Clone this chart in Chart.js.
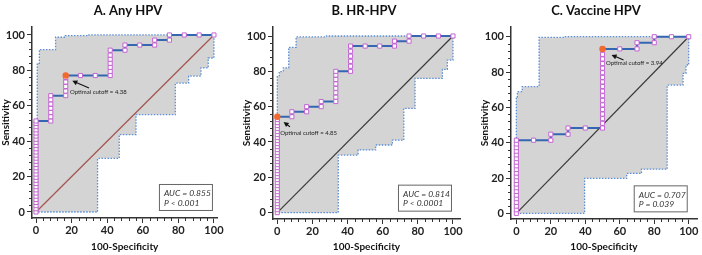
<!DOCTYPE html>
<html>
<head>
<meta charset="utf-8">
<script src="https://cdn.jsdelivr.net/npm/chart.js@4.4.1/dist/chart.umd.min.js"></script>
<style>
  html, body { margin: 0; padding: 0; background: #fff; }
  #wrap { position: relative; width: 702px; height: 255px; }
  .panel { position: absolute; top: 0; width: 234px; height: 255px; }
</style>
</head>
<body>
<div id="wrap">
  <div class="panel" style="left:0px"><canvas id="cA" width="234" height="255"></canvas></div>
  <div class="panel" style="left:234px"><canvas id="cB" width="234" height="255"></canvas></div>
  <div class="panel" style="left:468px"><canvas id="cC" width="234" height="255"></canvas></div>
</div>
<script>
const tickValues = [0, 20, 40, 60, 80, 100];

// A. Any HPV
const rocA_fpr = [0, 8.3, 16.7, 25, 33.3, 41.7, 50, 58.3, 66.7, 75, 83.3, 91.7, 100];
const rocA_sens = [
  [0, 1.8, 3.6, 5.4, 7.1, 8.9, 10.7, 12.5, 14.3, 16.1, 17.9, 19.6, 21.4, 23.2, 25, 26.8, 28.6, 30.4, 32.1, 33.9, 35.7, 37.5, 39.3, 41.1, 42.9, 44.6, 46.4, 48.2, 50, 51.4],
  [51.4, 53.8, 56.2, 58.6, 61, 63.4, 65.7],
  [65.7, 68.3, 70.9, 73.4, 76, 77.1],
  [77.1],
  [77.1],
  [77.1, 79.4, 81.7, 84, 86.3, 88.6, 91.4],
  [91.4, 94.3],
  [94.3],
  [94.3, 97.1],
  [97.1, 100],
  [100], [100], [100]
];
const bandA_x = [0.7, 0.7, 1.9, 1.9, 11, 11, 16.5, 16.5, 29, 29, 100,
  100, 96.8, 96.8, 92.7, 92.7, 85.8, 85.8, 78.3, 78.3, 56.2, 56.2, 46.8, 46.8, 34.6, 34.6, 0.7];
const bandA_y = [0, 84, 84, 91.7, 91.7, 98.7, 98.7, 99.6, 99.6, 100, 100,
  87, 87, 81.4, 81.4, 76.8, 76.8, 72.8, 72.8, 55, 55, 43.7, 43.7, 30.3, 30.3, 0, 0];
const cutA = [16.7, 77.1];

// B. HR-HPV
const rocB_fpr = [0, 8.3, 16.7, 25, 33.3, 41.7, 50, 58.3, 66.7, 75, 83.3, 91.7, 100];
const rocB_sens = [
  [0, 1.7, 3.4, 5.1, 6.8, 8.5, 10.2, 11.9, 13.6, 15.3, 17, 18.7, 20.4, 22.1, 23.8, 25.5, 27.2, 28.9, 30.6, 32.3, 34, 35.7, 37.4, 39.1, 40.8, 42.5, 44.2, 45.9, 47.6, 49.3, 51, 52.7, 54.3],
  [54.3, 57.1],
  [57.1, 60],
  [60, 62.9],
  [62.9, 65.4, 67.9, 70.4, 72.9, 75.4, 77.9, 80],
  [80, 82.9, 85.7, 88.6, 91.4, 94.3],
  [94.3],
  [94.3],
  [94.3, 97.1],
  [97.1, 100],
  [100], [100], [100]
];
const bandB_x = [0, 0, 1.1, 1.1, 3.4, 3.4, 6.5, 6.5, 10.7, 10.7, 28, 28, 100,
  100, 96.8, 96.8, 94, 94, 78.4, 78.4, 72, 72, 65.5, 65.5, 56, 56, 46, 46, 34.7, 34.7, 0];
const bandB_y = [0, 77, 77, 79.8, 79.8, 82, 82, 93.6, 93.6, 99.5, 99.5, 100, 100,
  86.4, 86.4, 81.1, 81.1, 76, 76, 59, 59, 41, 41, 38.3, 38.3, 35.5, 35.5, 32.6, 32.6, 0, 0];
const cutB = [0, 54.3];

// C. Vaccine HPV
const rocC_fpr = [0, 10, 20, 30, 40, 50, 60, 70, 80, 90, 100];
const rocC_sens = [
  [0, 2, 4.1, 6.2, 8.3, 10.3, 12.4, 14.5, 16.6, 18.6, 20.7, 22.8, 24.8, 26.9, 29, 31, 33.1, 35.2, 37.2, 39.3, 41.4],
  [41.4],
  [41.4, 44.8],
  [44.8, 48.3],
  [48.3],
  [48.3, 51, 53.6, 56.2, 58.8, 61.4, 64, 66.6, 69.2, 71.8, 74.4, 77, 79.6, 82.2, 84.8, 87.4, 90, 93.1],
  [93.1],
  [93.1, 96.6],
  [96.6, 100],
  [100], [100]
];
const bandC_x = [0, 0, 0.6, 0.6, 3.4, 3.4, 13.2, 13.2, 28, 28, 100,
  100, 98.4, 98.4, 96.7, 96.7, 87.5, 87.5, 72.6, 72.6, 64, 64, 39.6, 39.6, 0];
const bandC_y = [0, 66, 66, 68.9, 68.9, 71.7, 71.7, 99.6, 99.6, 100, 100,
  84, 84, 79.3, 79.3, 72.6, 72.6, 25, 25, 22.6, 22.6, 19.8, 19.8, 0, 0];
const cutC = [50, 93.1];

const diagX = [0, 100];
const diagY = [0, 100];

function toPoints(xs, ys) {
  return xs.map((v, i) => ({ x: v, y: ys[i] }));
}
function rocPoints(fpr, sens) {
  const pts = [];
  fpr.forEach((f, i) => sens[i].forEach((s) => pts.push({ x: f, y: s })));
  return pts;
}

// titles, minor ticks, arrow, AUC box
const decor = {
  id: "decor",
  afterDatasetsDraw(chart, args, o) {
    const { ctx, scales: { x, y } } = chart;
    const px = x.getPixelForValue(o.cut[0]);
    const py = y.getPixelForValue(o.cut[1]);
    ctx.save();
    // arrow
    const tx = px + o.tip[0], ty = py + o.tip[1];
    const sx = px + o.tail[0], sy = py + o.tail[1];
    const a = Math.atan2(ty - sy, tx - sx);
    ctx.strokeStyle = "#111";
    ctx.fillStyle = "#111";
    ctx.lineWidth = 1.1;
    ctx.beginPath();
    ctx.moveTo(sx, sy);
    ctx.lineTo(tx - 3 * Math.cos(a), ty - 3 * Math.sin(a));
    ctx.stroke();
    ctx.beginPath();
    ctx.moveTo(tx, ty);
    ctx.lineTo(tx - 5 * Math.cos(a) + 2.6 * Math.sin(a), ty - 5 * Math.sin(a) - 2.6 * Math.cos(a));
    ctx.lineTo(tx - 5 * Math.cos(a) - 2.6 * Math.sin(a), ty - 5 * Math.sin(a) + 2.6 * Math.cos(a));
    ctx.closePath();
    ctx.fill();
    ctx.font = "6px Lato";
    ctx.fillStyle = "#222";
    ctx.textAlign = "left";
    ctx.textBaseline = "middle";
    ctx.fillText(o.note, px + o.text[0], py + o.text[1]);

    // AUC box
    const bw = 54, bh = 27;
    const br = x.getPixelForValue(100) - 1;
    const bb = y.getPixelForValue(0) - 1;
    ctx.fillStyle = "#fff";
    ctx.fillRect(br - bw, bb - bh, bw, bh);
    ctx.strokeStyle = "#666";
    ctx.lineWidth = 1;
    ctx.strokeRect(br - bw + 0.5, bb - bh + 0.5, bw - 1, bh - 1);
    ctx.fillStyle = "#333";
    ctx.font = "italic 8.5px Lato";
    ctx.fillText(o.auc[0], br - bw + 5, bb - bh + 9.5);
    ctx.fillText(o.auc[1], br - bw + 5, bb - bh + 19);
    ctx.restore();
  },
  afterDraw(chart, args, o) {
    const { ctx, chartArea: ca, scales: { x, y } } = chart;
    ctx.save();
    // minor ticks
    ctx.strokeStyle = "#333";
    ctx.lineWidth = 1;
    ctx.beginPath();
    for (let v = 4; v < 100; v += 4) {
      if (v % 20 === 0) continue;
      const xp = Math.round(x.getPixelForValue(v)) + 0.5;
      ctx.moveTo(xp, ca.bottom);
      ctx.lineTo(xp, ca.bottom + 3);
      const yp = Math.round(y.getPixelForValue(v)) + 0.5;
      ctx.moveTo(ca.left, yp);
      ctx.lineTo(ca.left - 3, yp);
    }
    ctx.stroke();
    // title
    ctx.fillStyle = "#111";
    ctx.textAlign = "center";
    ctx.textBaseline = "middle";
    ctx.font = "bold 13px Lato";
    ctx.fillText(o.title, o.titleX, 11);
    // axis titles
    ctx.font = "bold 10px Lato";
    ctx.fillText("100-Specificity", (ca.left + ca.right) / 2, 247);
    ctx.translate(ca.left - 26.5, (ca.top + ca.bottom) / 2);
    ctx.rotate(-Math.PI / 2);
    ctx.fillText("Sensitivity", 0, 0);
    ctx.restore();
  },
};

function setTicks(axis) {
  axis.ticks = tickValues.map((v) => ({ value: v }));
}

function makeChart(id, p) {
  const tickFont = { family: "Lato", weight: "bold", size: 11 };
  new Chart(document.getElementById(id), {
    type: "line",
    data: {
      datasets: [
        {
          data: [{ x: p.cut[0], y: p.cut[1] }],
          showLine: false,
          pointRadius: 3.2,
          pointBackgroundColor: "#f26a2e",
          pointBorderColor: "#f26a2e",
          pointBorderWidth: 0,
        },
        {
          data: rocPoints(p.fpr, p.sens),
          borderColor: "#3466b2",
          borderWidth: 2,
          pointStyle: "rect",
          pointRadius: 2.9,
          pointBorderWidth: 1,
          pointBorderColor: "#c465d2",
          pointBackgroundColor: "#ffffff",
          tension: 0,
        },
        {
          data: toPoints(diagX, diagY),
          borderColor: p.diagColor,
          borderWidth: 1.2,
          pointRadius: 0,
        },
        {
          data: toPoints(p.bandX, p.bandY),
          borderColor: "#5b8ed6",
          borderWidth: 1.3,
          borderDash: [1.5, 1.5],
          backgroundColor: "#d4d4d4",
          fill: "shape",
          pointRadius: 0,
          tension: 0,
        },
      ],
    },
    options: {
      responsive: false,
      animation: false,
      events: [],
      layout: { padding: { left: 0, right: 234 - p.right, top: p.top, bottom: 0 } },
      plugins: {
        legend: { display: false },
        tooltip: { enabled: false },
        decor: {
          cut: p.cut, tip: p.tip, tail: p.tail, text: p.text,
          note: p.note, auc: p.auc, title: p.title, titleX: p.titleX,
        },
      },
      scales: {
        x: {
          type: "linear",
          min: p.xmin,
          max: p.xmax,
          afterBuildTicks: setTicks,
          afterFit: (s) => { s.height = 255 - p.bottom; },
          ticks: { font: tickFont, color: "#222", padding: 1, maxRotation: 0, autoSkip: false },
          grid: { drawOnChartArea: false, tickLength: 5, color: "#333" },
          border: { color: "#333", width: 1.5 },
        },
        y: {
          type: "linear",
          min: p.ymin,
          max: p.ymax,
          afterBuildTicks: setTicks,
          afterFit: (s) => { s.width = p.left; },
          ticks: { font: tickFont, color: "#222", padding: 2, autoSkip: false },
          grid: { drawOnChartArea: false, tickLength: 5, color: "#333" },
          border: { color: "#333", width: 1.5 },
        },
      },
    },
    plugins: [decor],
  });
}

makeChart("cA", {
  fpr: rocA_fpr, sens: rocA_sens, bandX: bandA_x, bandY: bandA_y, cut: cutA,
  diagColor: "#a3544f", title: "A. Any HPV", titleX: 128,
  note: "Optimal cutoff = 4.38", auc: ["AUC = 0.855", "P < 0.001"],
  tip: [6.6, 5.3], tail: [23.3, 12.6], text: [4.3, 16.6],
  left: 32, right: 217.5, top: 27, bottom: 218,
  xmin: -2.25, xmax: 102, ymin: -3.4, ymax: 104.5,
});
makeChart("cB", {
  fpr: rocB_fpr, sens: rocB_sens, bandX: bandB_x, bandY: bandB_y, cut: cutB,
  diagColor: "#3a3a3a", title: "B. HR-HPV", titleX: 130,
  note: "Optimal cutoff = 4.85", auc: ["AUC = 0.814", "P < 0.0001"],
  tip: [6.3, 5.3], tail: [12.6, 10], text: [3, 16.6],
  left: 39, right: 226, top: 27, bottom: 219,
  xmin: -2.45, xmax: 104, ymin: -3.6, ymax: 105.1,
});
makeChart("cC", {
  fpr: rocC_fpr, sens: rocC_sens, bandX: bandC_x, bandY: bandC_y, cut: cutC,
  diagColor: "#3a3a3a", title: "C. Vaccine HPV", titleX: 128,
  note: "Optimal cutoff = 3.94", auc: ["AUC = 0.707", "P = 0.039"],
  tip: [9, 6], tail: [21, 11], text: [3.4, 14],
  left: 43, right: 231, top: 27, bottom: 219,
  xmin: -3.1, xmax: 104.8, ymin: -3.2, ymax: 105.5,
});
</script>
</body>
</html>
